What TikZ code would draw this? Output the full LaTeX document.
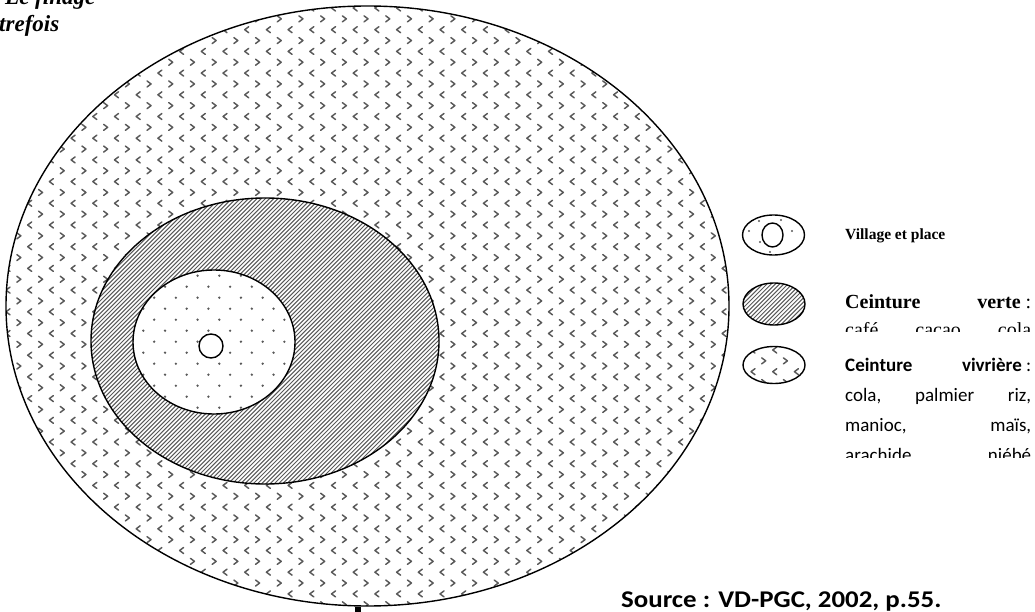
\documentclass[tikz,border=0pt]{standalone}
\usepackage{fontspec}
\setmainfont{Liberation Serif}
\newfontfamily\calibri{Carlito}
\begin{document}
\begin{tikzpicture}[x=1pt,y=-1pt,
  outline/.style={line width=1.4pt, black},
  chev/.style={line width=1.45pt, black!65, line cap=round, line join=round},
  hatch/.style={line width=1.0pt, black!65},
  dotf/.style={fill=black!65},
  lbl/.style={inner sep=0pt, anchor=base west},
]
\useasboundingbox (0,0) rectangle (1035,612);
\fill[white] (0,0) rectangle (1035,612);
\begin{scope}
\clip (0,0) rectangle (1035,612);
% ---------- outer belt (chevrons)
\begin{scope}
\clip (367.5,306) ellipse [x radius=361.5, y radius=300];
\draw[chev] \foreach \ri [evaluate=\ri as \yy using 8+21.7*\ri] in {0,...,28} {
  \foreach \ci [evaluate=\ci as \xx using 8+21.7*\ci] in {0,...,34} {
    (\xx,\yy) ++(2,-3) -- ++(-4,3) -- ++(4,3) } };
\draw[chev] \foreach \ri [evaluate=\ri as \yy using 18.85+21.7*\ri] in {0,...,27} {
  \foreach \ci [evaluate=\ci as \xx using 18.85+21.7*\ci] in {0,...,33} {
    (\xx,\yy) ++(-2,-3) -- ++(4,3) -- ++(-4,3) } };
\end{scope}
% ---------- green belt (hatch)
\fill[white] (265,341) ellipse [x radius=174, y radius=143];
\begin{scope}
\clip (265,341) ellipse [x radius=174, y radius=143];
\draw[hatch] \foreach \k in {0,...,160} { ({-215+4.2*\k},490) -- ++(300,-300) };
\end{scope}
% ---------- village zone (dots)
\fill[white] (214,342) ellipse [x radius=81, y radius=72];
\begin{scope}
\clip (214,342) ellipse [x radius=81, y radius=72];
\fill[dotf] \foreach \ri [evaluate=\ri as \yy using 264.7+22*\ri] in {0,...,7} {
  \foreach \ci [evaluate=\ci as \xx using 121.6+21.7*\ci] in {0,...,9} {
    (\xx,\yy) circle [radius=1.3] } };
\fill[dotf] \foreach \ri [evaluate=\ri as \yy using 275.7+22*\ri] in {0,...,7} {
  \foreach \ci [evaluate=\ci as \xx using 110.75+21.7*\ci] in {0,...,9} {
    (\xx,\yy) circle [radius=1.3] } };
\end{scope}
\fill[white] (211,346) circle [radius=12];
% ---------- outlines
\draw[outline] (367.5,306) ellipse [x radius=361.5, y radius=300];
\draw[outline] (265,341) ellipse [x radius=174, y radius=143];
\draw[outline] (214,342) ellipse [x radius=81, y radius=72];
\draw[outline] (211,346) circle [radius=12];
\fill (355,607) rectangle (361,612);
% ---------- legend 1
\fill[dotf] (759,221) circle[radius=1.2] (781,220) circle[radius=1.2]
  (749,231) circle[radius=1.2] (792,231) circle[radius=1.2]
  (760,242) circle[radius=1.2] (770,252) circle[radius=1.2];
\draw[outline] (773.5,235) ellipse [x radius=31, y radius=20];
\draw[outline] (772.5,235) ellipse [x radius=10.5, y radius=12];
% ---------- legend 2
\begin{scope}
\clip (774,304) ellipse [x radius=31, y radius=21];
\draw[hatch] \foreach \k in {0,...,30} { ({700+4.2*\k},330) -- ++(50,-50) };
\end{scope}
\draw[outline] (774,304) ellipse [x radius=31, y radius=21];
% ---------- legend 3
\begin{scope}
\clip (774,365) ellipse [x radius=31, y radius=18.5];
\draw[chev] \foreach \ri [evaluate=\ri as \yy using 350+21.7*\ri] in {0,1} {
  \foreach \ci [evaluate=\ci as \xx using 753+21.7*\ci] in {0,...,3} {
    (\xx,\yy) ++(2,-3) -- ++(-4,3) -- ++(4,3) } };
\draw[chev] \foreach \ri [evaluate=\ri as \yy using 360.85+21.7*\ri] in {0,1} {
  \foreach \ci [evaluate=\ci as \xx using 742+21.7*\ci] in {0,...,3} {
    (\xx,\yy) ++(-2,-3) -- ++(4,3) -- ++(-4,3) } };
\end{scope}
\draw[outline] (774,365) ellipse [x radius=31, y radius=18.5];
% ---------- legend texts
\node[lbl, font=\bfseries\fontsize{15.5}{18}\selectfont] (vp) at (845,240) {Village et place};
\node[lbl, font=\fontsize{20}{24}\selectfont] (cv) at (845,308)
  {\makebox[186pt][s]{\textbf{Ceinture}\hfill\textbf{verte}\ :}};
\begin{scope}
\clip (840,312) rectangle (1035,331);
\node[lbl, font=\fontsize{20}{24}\selectfont] (cv2) at (845,336)
  {\makebox[186pt][s]{café\hfill cacao\hfill cola}};
\end{scope}
\node[lbl, font=\calibri\fontsize{19}{23}\selectfont] (cw) at (845,371)
  {\makebox[186pt][s]{\textbf{Ceinture}\hfill\textbf{vivrière}\ :}};
\node[lbl, font=\calibri\fontsize{19}{23}\selectfont] (cw2) at (845,401)
  {\makebox[186pt][s]{cola,\hfill palmier\hfill riz,}};
\node[lbl, font=\calibri\fontsize{19}{23}\selectfont] (cw3) at (845,431)
  {\makebox[186pt][s]{manioc,\hfill maïs,}};
\begin{scope}
\clip (840,440) rectangle (1035,457);
\node[lbl, font=\calibri\fontsize{19}{23}\selectfont] (cw4) at (845,461)
  {\makebox[186pt][s]{arachide\hfill niébé}};
\end{scope}
% ---------- source and title
\node[lbl, font=\calibri\bfseries\fontsize{24}{28}\selectfont] (src) at (621,607)
  {\scalebox{1.12}[1]{Source : VD-PGC, 2002, p.55.}};
\node[lbl, font=\bfseries\itshape\fontsize{23}{27}\selectfont] (t1) at (5,5) {Le finage};
\node[lbl, font=\bfseries\itshape\fontsize{23}{27}\selectfont] (t2) at (-1,32) {trefois};
\end{scope}
\end{tikzpicture}
\end{document}
